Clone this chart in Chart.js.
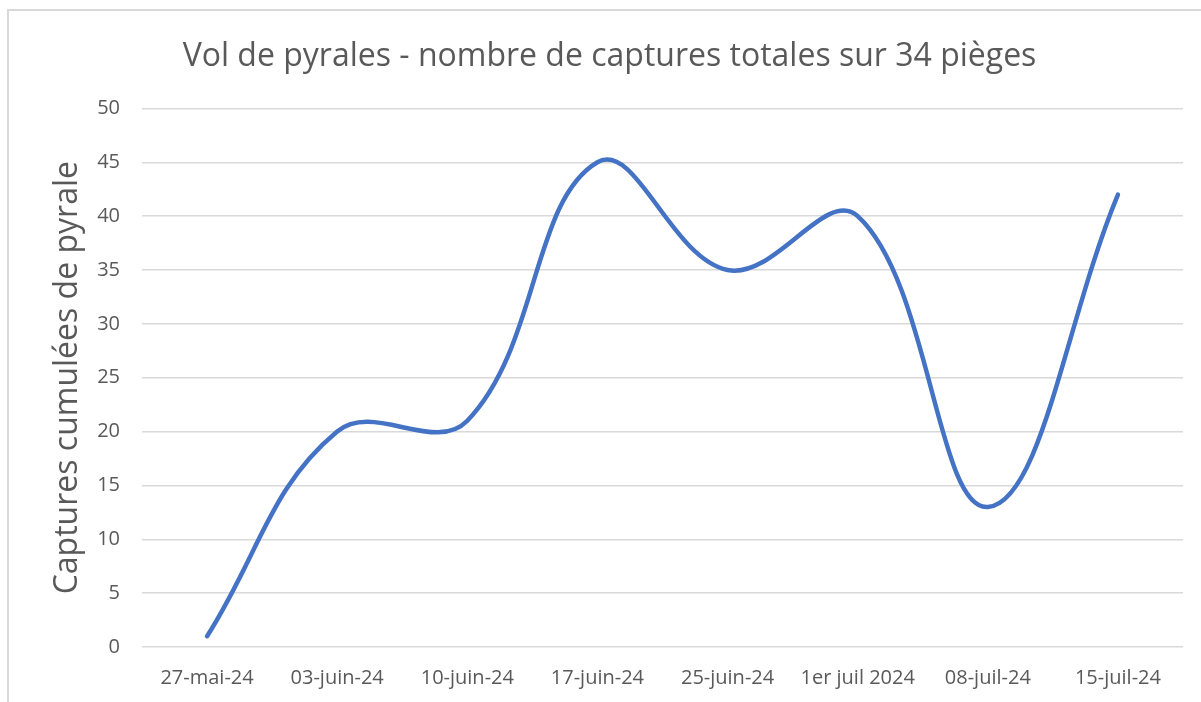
<!DOCTYPE html>
<html>
<head>
<meta charset="utf-8">
<script src="https://cdn.jsdelivr.net/npm/chart.js@4"></script>
<style>
  html, body { margin: 0; padding: 0; background: #fff; }
  #frame {
    position: absolute; left: 7px; top: 9px; width: 1194px; height: 693px;
    border-top: 2px solid #d9d9d9; border-left: 2px solid #d9d9d9;
  }
  #wrap { position: absolute; left: 0; top: 0; width: 1201px; height: 702px; }
</style>
</head>
<body>
<div id="frame"></div>
<div id="wrap"><canvas id="pyraleChart"></canvas></div>
<script>
// Dates des relevés
const dates = ["27-mai-24", "03-juin-24", "10-juin-24", "17-juin-24", "25-juin-24", "1er juil 2024", "08-juil-24", "15-juil-24"];
// Captures cumulées sur 34 pièges
const captures = [1, 20, 21, 45, 35, 40, 13, 42];

const fontFam = "'Open Sans', 'DejaVu Sans', sans-serif";
const ctx = document.getElementById("pyraleChart").getContext("2d");

new Chart(ctx, {
  type: "line",
  data: {
    labels: dates,
    datasets: [
      {
        label: "Captures",
        data: captures,
        borderColor: "#4472C4",
        borderWidth: 4.5,
        borderCapStyle: "round",
        borderJoinStyle: "round",
        pointRadius: 0,
        tension: 0.4,
        fill: false,
      },
    ],
  },
  options: {
    responsive: true,
    maintainAspectRatio: false,
    animation: false,
    layout: { padding: { left: 36, right: 18, top: 14, bottom: 0 } },
    scales: {
      x: {
        offset: true,
        grid: { display: false, drawTicks: false },
        border: { display: false },
        ticks: { color: "#595959", font: { family: fontFam, size: 20 }, padding: 19, maxRotation: 0 },
        afterFit: (scale) => { scale.height = 55; }, // fixe la hauteur de l'axe X
      },
      y: {
        min: 0,
        max: 50,
        ticks: { stepSize: 5, color: "#595959", font: { family: fontFam, size: 20 }, padding: 22 },
        grid: { color: "#d9d9d9", lineWidth: 1.5, drawTicks: false },
        border: { display: false },
        title: {
          display: true,
          text: "Captures cumulées de pyrale",
          color: "#595959",
          font: { family: fontFam, size: 32 },
          padding: { top: 13, bottom: 0 },
        },
        afterFit: (scale) => { scale.width = 106; }, // fixe la largeur de l'axe Y
      },
    },
    plugins: {
      legend: { display: false },
      tooltip: { enabled: false },
      title: {
        display: true,
        text: "Vol de pyrales - nombre de captures totales sur 34 pièges",
        color: "#595959",
        font: { family: fontFam, size: 32, weight: "normal" },
        padding: { top: 24, bottom: 32 },
      },
    },
  },
});
</script>
</body>
</html>
